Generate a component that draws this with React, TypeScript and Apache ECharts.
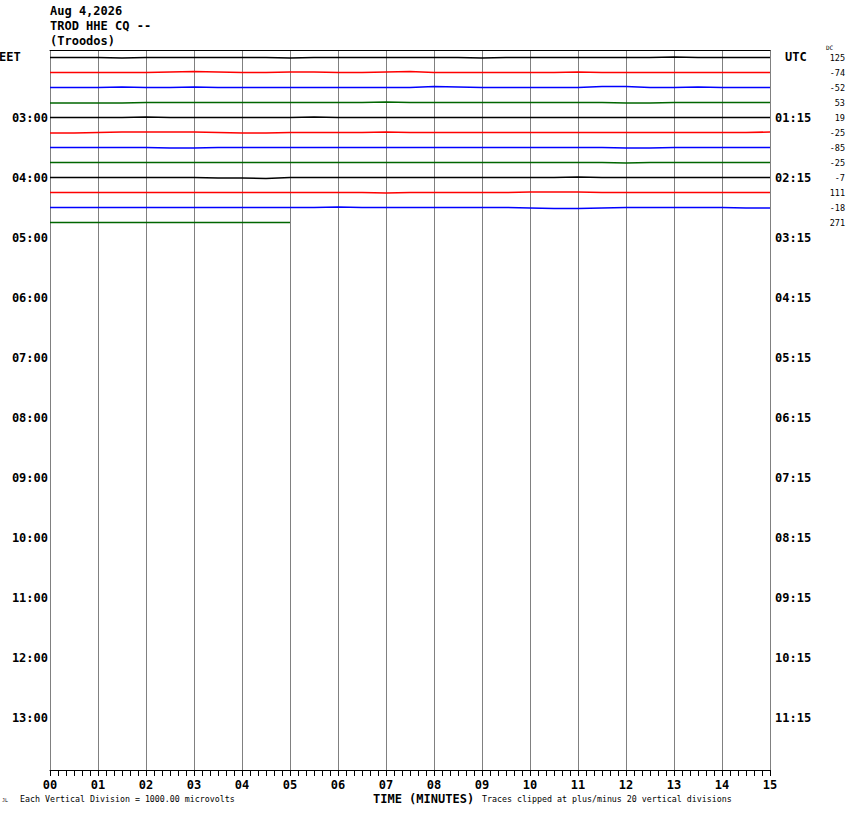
import React, { useEffect, useRef } from "react";
import * as echarts from "echarts";

// ---- data ----
const TITLE_LINES = ["Aug 4,2026", "TROD HHE CQ --", "(Troodos)"];
const MINUTE_TICKS = ["00","01","02","03","04","05","06","07","08","09","10","11","12","13","14","15"];
const SAMPLE_MINUTES = [0,0.5,1,1.5,2,2.5,3,3.5,4,4.5,5,5.5,6,6.5,7,7.5,8,8.5,9,9.5,10,10.5,11,11.5,12,12.5,13,13.5,14,14.5,15];
const TRACE_COLORS = ["#000000", "#ff0000", "#0000ff", "#006600"];
const ROW_COUNT = 48;
const PX_PER_ROW = 15;
const LEFT_HOUR_LABELS: Record<number, string> = {4:"03:00",8:"04:00",12:"05:00",16:"06:00",20:"07:00",24:"08:00",28:"09:00",32:"10:00",36:"11:00",40:"12:00",44:"13:00"};
const RIGHT_HOUR_LABELS: Record<number, string> = {4:"01:15",8:"02:15",12:"03:15",16:"04:15",20:"05:15",24:"06:15",28:"07:15",32:"08:15",36:"09:15",40:"10:15",44:"11:15"};
const DC_VALUES = ["125","-74","-52","53","19","-25","-85","-25","-7","111","-18","271"];

// trace offsets (pixels, positive = down), one value per half minute
const TRACE_00 = [0,0,0,0.5,0,0,0,0,0,0,0.5,0,0,0,0,0,0,0,0.5,0,0,0,0,0,0,0,-0.5,0,0,0,0];
const TRACE_01 = [0,0,0,0,0,-0.5,-1,-0.5,0,0,-0.5,-0.5,0,0,-0.5,-1,0,0,0,0,0,0,-0.5,0,0,0,0,0,0,0,0];
const TRACE_02 = [0,0,0,-0.5,0,0,-0.5,0,0,0,0,0,0,0,0,0,-1,-0.5,0,0,0,0,0,-1,-1,0,0,-0.5,0,0,0];
const TRACE_03 = [0.5,0.5,0.5,0.5,0,0,0,0,0,0,0,0,0,0,-0.5,0,0,0,0,0,0,0,0,0,0.5,0.5,0,0,0,0,0];
const TRACE_04 = [0,0,0,0,-0.5,0,0,0,0,0,0,-0.5,0,0,0,0,0,0,0,0,0,0,0,0,0,0,0,0,0,0,0];
const TRACE_05 = [0.5,0.5,0,-0.5,-0.5,-0.5,-0.5,0,0.5,0.5,0,0,0,0,-0.5,0,0,0,0,0,0,0,0,0,0,0,0,0,0,0,-0.5];
const TRACE_06 = [0,0,0,0,0,0.5,0.5,0,0,0,0,0,0,0,0,0,0,0,0,0,0,0,0,0,0.5,0.5,0,0,0,0,0];
const TRACE_07 = [0,0,0,0,0,0,0,0,0,0,0,0,0,0,0,0,0,0,0,0,0,0,0,0,0.5,0,0,0,0,0,0];
const TRACE_08 = [0,0,0,0,0,0,0,0.5,0.5,1,0,0,0,0,0,0,0,0,0,0,0,0,-0.5,0,0,0,0,0,0,0,0];
const TRACE_09 = [0,0,0,0,0,0,0,0,0,0,0,0,0,0,0.5,0,0,0,0,0,-0.5,-0.5,-0.5,0,0,0,0,0,0,0,0];
const TRACE_10 = [0,0,0,0,0,0,0,0,0,0,0,0,-0.5,0,0,0,0,0,0,0,0.5,1,1,0.5,0,0,0,0,0,0.5,0.5];
const TRACE_11 = [0,0,0,0,0,0,0,0,0,0,0];
const TRACES = [TRACE_00,TRACE_01,TRACE_02,TRACE_03,TRACE_04,TRACE_05,TRACE_06,TRACE_07,TRACE_08,TRACE_09,TRACE_10,TRACE_11];

const MONO = "'DejaVu Sans Mono', 'Liberation Mono', monospace";

export default function App() {
  const ref = useRef<HTMLDivElement>(null);
  useEffect(() => {
    if (!ref.current) return;
    const chart = echarts.init(ref.current, null, { renderer: "svg" });
    const rows = Array.from({ length: ROW_COUNT }, (_, i) => String(i));
    const series = TRACES.map((offs, k) => ({
      type: "line",
      xAxisIndex: 0,
      yAxisIndex: 0,
      showSymbol: false,
      silent: true,
      lineStyle: { color: TRACE_COLORS[k % 4], width: 1.5 },
      data: offs.map((o, j) => [SAMPLE_MINUTES[j], k + o / PX_PER_ROW]),
    }));
    chart.setOption({
      animation: false,
      backgroundColor: "#ffffff",
      grid: { left: 50, right: 80, top: 50, bottom: 44 },
      xAxis: [
        {
          type: "value", min: 0, max: 15, interval: 1, position: "bottom",
          axisLine: { show: true, onZero: false, lineStyle: { color: "#000", width: 1 } },
          axisTick: { show: true, length: 6, lineStyle: { color: "#000" } },
          minorTick: { show: true, splitNumber: 6, length: 6, lineStyle: { color: "#000" } },
          splitLine: { show: true, lineStyle: { color: "#808080", width: 1 } },
          axisLabel: {
            margin: 9, color: "#000", fontFamily: MONO, fontWeight: "bold", fontSize: 12,
            formatter: (v: number) => MINUTE_TICKS[Math.round(v)] ?? "",
            showMinLabel: true, showMaxLabel: true,
          },
        },
        {
          type: "value", min: 0, max: 15, position: "top",
          axisLine: { show: true, onZero: false, lineStyle: { color: "#000", width: 1 } },
          axisTick: { show: false }, axisLabel: { show: false }, splitLine: { show: false },
        },
      ],
      yAxis: [
        {
          type: "value", min: -0.5, max: ROW_COUNT - 0.5, inverse: true, show: false,
          splitLine: { show: false },
        },
        {
          type: "category", data: rows, inverse: true, position: "left", boundaryGap: true,
          axisLine: { show: false }, axisTick: { show: false }, splitLine: { show: false },
          axisLabel: {
            interval: 0, margin: 2, color: "#000", fontFamily: MONO, fontWeight: "bold", fontSize: 12,
            formatter: (_v: string, i: number) => LEFT_HOUR_LABELS[i] ?? "",
          },
        },
        {
          type: "category", data: rows, inverse: true, position: "right", boundaryGap: true,
          axisLine: { show: false }, axisTick: { show: false }, splitLine: { show: false },
          axisLabel: {
            interval: 0, margin: 5, color: "#000", fontFamily: MONO, fontWeight: "bold", fontSize: 12,
            formatter: (_v: string, i: number) => RIGHT_HOUR_LABELS[i] ?? "",
          },
        },
        {
          type: "category", data: rows, inverse: true, position: "right", boundaryGap: true,
          axisLine: { show: false }, axisTick: { show: false }, splitLine: { show: false },
          axisLabel: {
            interval: 0, margin: 75, align: "right", color: "#000", fontFamily: MONO, fontSize: 8.5,
            formatter: (_v: string, i: number) => DC_VALUES[i] ?? "",
          },
        },
      ],
      graphic: [
        ...TITLE_LINES.map((t, i) => ({
          type: "text", left: 50, top: 5 + i * 15,
          style: { text: t, fill: "#000", font: `bold 12px ${MONO}` },
        })),
        { type: "text", left: -1, top: 51, style: { text: "EET", fill: "#000", font: `bold 12px ${MONO}` } },
        { type: "text", left: 785, top: 51, style: { text: "UTC", fill: "#000", font: `bold 12px ${MONO}` } },
        { type: "text", left: 826, top: 44, style: { text: "DC", fill: "#000", font: `6px ${MONO}` } },
        { type: "text", left: 373, top: 793, style: { text: "TIME (MINUTES)", fill: "#000", font: `bold 12px ${MONO}` } },
        { type: "text", left: 20, top: 795, style: { text: "Each Vertical Division = 1000.00 microvolts", fill: "#000", font: `8.3px ${MONO}` } },
        { type: "text", left: 482, top: 795, style: { text: "Traces clipped at plus/minus 20 vertical divisions", fill: "#000", font: `8.3px ${MONO}` } },
        { type: "text", left: 2, top: 797, style: { text: "JL", fill: "#000", font: `5px ${MONO}` } },
      ],
      series,
    });
    return () => chart.dispose();
  }, []);
  return (
    <div
      ref={ref}
      style={{ position: "fixed", left: 0, top: 0, width: 850, height: 814, background: "#fff" }}
    />
  );
}
